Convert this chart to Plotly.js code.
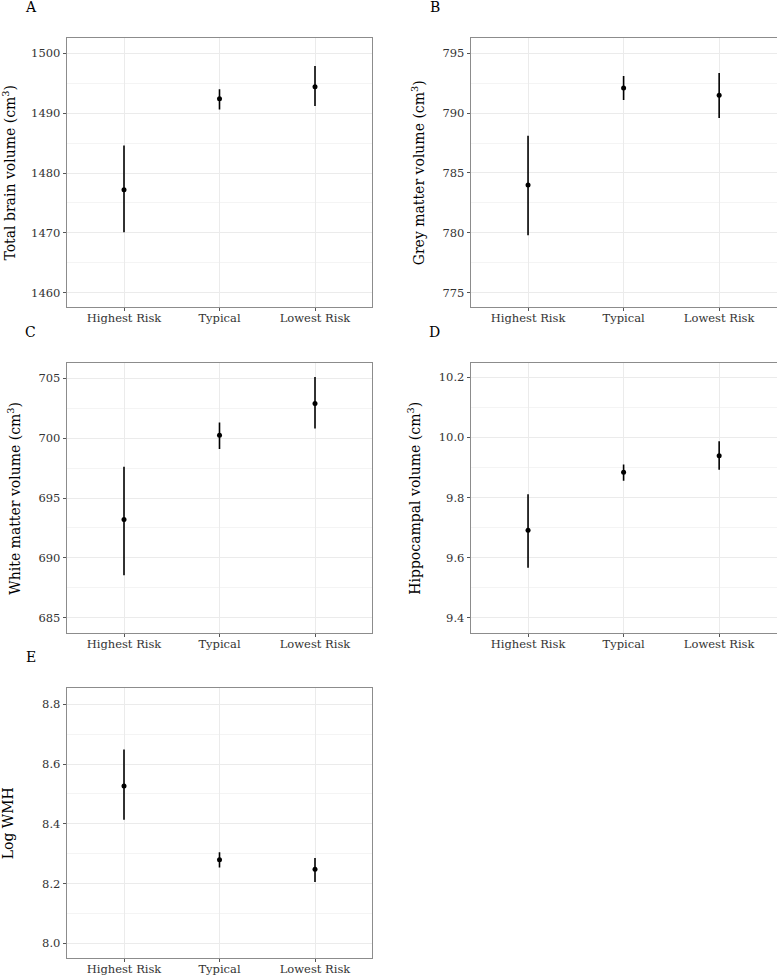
<!DOCTYPE html>
<html>
<head>
<meta charset="utf-8">
<script src="https://cdn.plot.ly/plotly-3.0.1.min.js"></script>
<style>html,body{margin:0;padding:0;background:#fff;}#chart{width:777px;height:976px;}</style>
</head>
<body>
<div id="chart"></div>
<script>
// Categories
const groups = ["Highest Risk", "Typical", "Lowest Risk"];

// Panel A: Total brain volume (cm3)
const totalMean  = [1477.2, 1492.4, 1494.4];
const totalLower = [1470.1, 1490.6, 1491.2];
const totalUpper = [1484.6, 1494.0, 1497.9];

// Panel B: Grey matter volume (cm3)
const greyMean  = [784.0, 792.1, 791.5];
const greyLower = [779.8, 791.1, 789.6];
const greyUpper = [788.1, 793.1, 793.35];

// Panel C: White matter volume (cm3)
const whiteMean  = [693.2, 700.25, 702.9];
const whiteLower = [688.55, 699.1, 700.8];
const whiteUpper = [697.6, 701.3, 705.1];

// Panel D: Hippocampal volume (cm3)
const hippoMean  = [9.691, 9.884, 9.939];
const hippoLower = [9.566, 9.856, 9.892];
const hippoUpper = [9.811, 9.910, 9.987];

// Panel E: Log WMH
const wmhMean  = [8.527, 8.280, 8.248];
const wmhLower = [8.414, 8.254, 8.205];
const wmhUpper = [8.649, 8.305, 8.286];

const panelLetters = ["A", "B", "C", "D", "E"];
const yTitles = [
  "Total brain volume (cm<sup>3</sup>)",
  "Grey matter volume (cm<sup>3</sup>)",
  "White matter volume (cm<sup>3</sup>)",
  "Hippocampal volume (cm<sup>3</sup>)",
  "Log WMH"
];
const yTicks = [
  [1460, 1470, 1480, 1490, 1500],
  [775, 780, 785, 790, 795],
  [685, 690, 695, 700, 705],
  [9.4, 9.6, 9.8, 10.0, 10.2],
  [8.0, 8.2, 8.4, 8.6, 8.8]
];
const yTickText = [
  ["1460", "1470", "1480", "1490", "1500"],
  ["775", "780", "785", "790", "795"],
  ["685", "690", "695", "700", "705"],
  ["9.4", "9.6", "9.8", "10.0", "10.2"],
  ["8.0", "8.2", "8.4", "8.6", "8.8"]
];

const series = [
  [totalMean, totalLower, totalUpper],
  [greyMean, greyLower, greyUpper],
  [whiteMean, whiteLower, whiteUpper],
  [hippoMean, hippoLower, hippoUpper],
  [wmhMean, wmhLower, wmhUpper]
];

// layout geometry (pixels)
const W = 777, H = 976;
const colX = [[66.7, 372.3], [470.7, 776.5]];
const rowY = [[38.3, 307.3], [363.3, 633.3], [688.3, 958.3]];
const yRanges = [
  [1457.56, 1502.51],
  [773.78, 796.25],
  [683.7, 706.25],
  [9.348, 10.2466],
  [7.95, 8.8536]
];
const minorStep = [5, 2.5, 2.5, 0.1, 0.1];
const titleStandoff = [14, 14, 14, 14, 29];

const FONT = "DejaVu Serif, Liberation Serif, serif";
const traces = [];
const layout = {
  width: W, height: H,
  margin: {l: 0, r: 0, t: 0, b: 0},
  paper_bgcolor: "#ffffff",
  plot_bgcolor: "#ffffff",
  showlegend: false,
  font: {family: FONT, color: "#000"},
  annotations: []
};

series.forEach((s, i) => {
  const [mean, lower, upper] = s;
  const col = i % 2, row = Math.floor(i / 2);
  const n = i + 1;
  const xa = n === 1 ? "x" : "x" + n;
  const ya = n === 1 ? "y" : "y" + n;
  traces.push({
    type: "scatter", mode: "markers",
    x: groups, y: mean,
    xaxis: xa, yaxis: ya,
    marker: {color: "#000", size: 5},
    error_y: {
      type: "data", symmetric: false,
      array: upper.map((u, k) => u - mean[k]),
      arrayminus: lower.map((l, k) => mean[k] - l),
      color: "#000", thickness: 1.6, width: 0
    },
    hoverinfo: "x+y"
  });
  const xKey = n === 1 ? "xaxis" : "xaxis" + n;
  const yKey = n === 1 ? "yaxis" : "yaxis" + n;
  layout[xKey] = {
    domain: [colX[col][0] / W, colX[col][1] / W],
    anchor: ya,
    type: "category",
    categoryorder: "array", categoryarray: groups,
    range: [-0.6, 2.6],
    showgrid: true, gridcolor: "#ebebeb", gridwidth: 1,
    showline: true, linecolor: "#8c8c8c", linewidth: 1, mirror: true,
    ticks: "outside", ticklen: 3, tickcolor: "#555", tickwidth: 1,
    ticklabelstandoff: -3,
    tickfont: {family: FONT, size: 11.5, color: "#333"},
    zeroline: false, fixedrange: true
  };
  layout[yKey] = {
    domain: [1 - rowY[row][1] / H, 1 - rowY[row][0] / H],
    anchor: xa,
    range: yRanges[i],
    tickmode: "array", tickvals: yTicks[i], ticktext: yTickText[i],
    showgrid: true, gridcolor: "#ebebeb", gridwidth: 1,
    minor: {dtick: minorStep[i], tick0: yTicks[i][0], showgrid: true, gridcolor: "#f4f4f4", gridwidth: 1, ticks: ""},
    showline: true, linecolor: "#8c8c8c", linewidth: 1, mirror: true,
    ticks: "outside", ticklen: 3, tickcolor: "#555", tickwidth: 1,
    tickfont: {family: FONT, size: 11.5, color: "#333"},
    title: {text: yTitles[i], font: {family: FONT, size: 14, color: "#000"}, standoff: titleStandoff[i]},
    zeroline: false, fixedrange: true
  };
  layout.annotations.push({
    text: panelLetters[i],
    xref: "paper", yref: "paper",
    x: (colX[col][0] - 36) / W,
    y: 1 - (rowY[row][0] - 31) / H,
    xanchor: "center", yanchor: "middle",
    showarrow: false,
    font: {family: FONT, size: 14, color: "#000"}
  });
});

Plotly.newPlot("chart", traces, layout, {displayModeBar: false, staticPlot: true});
</script>
</body>
</html>
